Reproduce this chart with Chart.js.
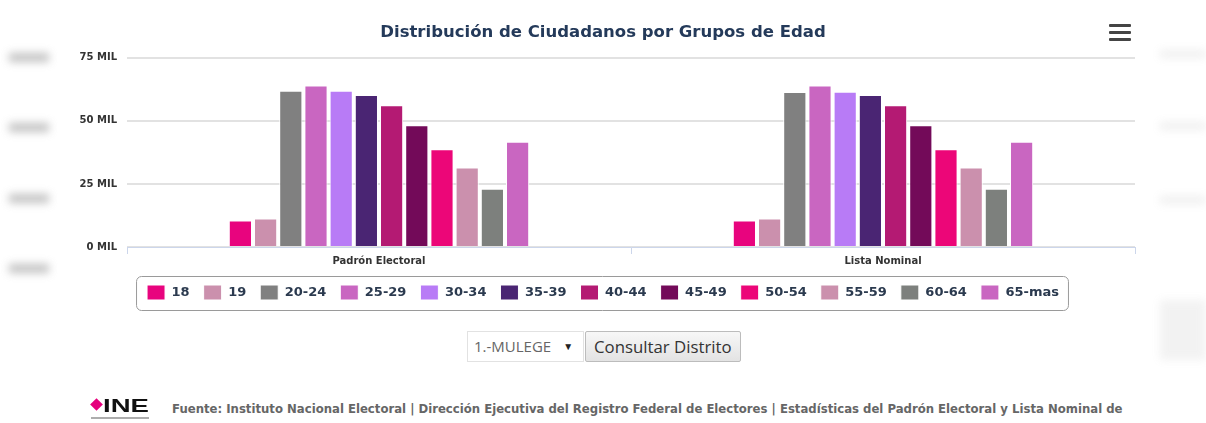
<!DOCTYPE html>
<html>
<head>
<meta charset="utf-8">
<script src="https://cdn.jsdelivr.net/npm/chart.js@4"></script>
<style>
    body { margin: 0; background: #fff; width: 1206px; height: 423px; overflow: hidden; position: relative; font-family: "DejaVu Sans", Verdana, sans-serif; }
    #wrap { position: absolute; left: 0; top: 0; width: 1206px; height: 322px; }
    .menu { position: absolute; left: 1109px; top: 24px; width: 22px; }
    .menu div { height: 3px; background: #444; margin-bottom: 4px; border-radius: 1px; }
    .blur { position: absolute; background: #9a9a9a; filter: blur(4px); opacity: .6; }
    .ctrl { position: absolute; top: 331px; left: 467px; display: flex; font-family: "Open Sans", sans-serif; }
    .sel { width: 109px; height: 29px; border: 1px solid #e2e2e2; color: #666; line-height: 29px; padding-left: 6px; font-size: 15px; white-space: nowrap; }
    .sel span { font-size: 10px; margin-left: 12px; color: #222; position: relative; top: -2px; }
    .btn { margin-left: 1px; height: 29px; line-height: 29px; padding: 0 8px; border: 1px solid #bcbcbc; background: linear-gradient(#f7f7f7, #e3e3e3); color: #333; border-radius: 2px; font-size: 16.8px; white-space: nowrap; }
    .logo { position: absolute; left: 89px; top: 397px; width: 62px; height: 24px; }
    .logo .d { position: absolute; left: 3px; top: 3px; width: 9px; height: 9px; background: #e5007d; transform: rotate(45deg); }
    .logo .t { position: absolute; left: 14px; top: -2px; font: bold 19px "Liberation Sans", Arial, sans-serif; color: #111; transform: scaleX(1.45); transform-origin: left; }
    .logo .s { position: absolute; left: 2px; top: 20px; width: 58px; height: 2px; background: #777; opacity: .6; }
    .src { position: absolute; left: 172px; top: 402px; font-size: 11.7px; font-weight: bold; color: #666; white-space: nowrap; }
</style>
</head>
<body>
<div class="blur" style="left:9px;top:53px;width:40px;height:9px"></div>
<div class="blur" style="left:9px;top:123px;width:40px;height:9px"></div>
<div class="blur" style="left:9px;top:194px;width:40px;height:9px"></div>
<div class="blur" style="left:9px;top:264px;width:40px;height:9px"></div>
<div class="blur" style="left:1160px;top:50px;width:46px;height:8px;opacity:.15"></div>
<div class="blur" style="left:1160px;top:122px;width:46px;height:8px;opacity:.15"></div>
<div class="blur" style="left:1160px;top:196px;width:46px;height:8px;opacity:.15"></div>
<div class="blur" style="left:1160px;top:300px;width:46px;height:60px;opacity:.12"></div>
<div id="wrap"><canvas id="myChart"></canvas></div>
<div class="menu"><div></div><div></div><div></div></div>
<div class="ctrl"><div class="sel">1.-MULEGE<span>▼</span></div><div class="btn">Consultar Distrito</div></div>
<div class="logo"><div class="d"></div><div class="t">INE</div><div class="s"></div></div>
<div class="src">Fuente: Instituto Nacional Electoral | Dirección Ejecutiva del Registro Federal de Electores | Estadísticas del Padrón Electoral y Lista Nominal de</div>
<script>
const categories = ["Padrón Electoral", "Lista Nominal"];
const ageGroups = ["18", "19", "20-24", "25-29", "30-34", "35-39", "40-44", "45-49", "50-54", "55-59", "60-64", "65-mas"];
const padron = [10500, 11300, 61900, 64000, 61900, 60300, 56200, 48300, 38700, 31500, 23100, 41700];
const lista = [10500, 11300, 61400, 64000, 61500, 60300, 56200, 48300, 38700, 31500, 23100, 41700];
const colors = ["#e8047e", "#cb90ad", "#808080", "#c966c1", "#b87bf6", "#4a2573", "#b41a73", "#730a59", "#ec0678", "#cb90ad", "#7d807d", "#c966c1"];
const yTicks = [0, 25000, 50000, 75000];

const ctx = document.getElementById("myChart");

// rounded box around the legend items
const legendBorder = {
    id: "legendBorder",
    afterDraw(chart) {
        const boxes = chart.legend.legendHitBoxes;
        if (!boxes || !boxes.length) return;
        const left = Math.min(...boxes.map(b => b.left)) - 11;
        const right = Math.max(...boxes.map(b => b.left + b.width)) + 9;
        const top = boxes[0].top - 9;
        const bottom = boxes[0].top + boxes[0].height + 10;
        const c = chart.ctx;
        c.save();
        c.strokeStyle = "#9a9a9a";
        c.lineWidth = 1;
        c.beginPath();
        c.roundRect(left + 0.5, top + 0.5, right - left, bottom - top, 5);
        c.stroke();
        c.restore();
    }
};

let myChart = new Chart(ctx, {
    type: "bar",
    data: {
        labels: categories,
        datasets: ageGroups.map((g, i) => ({
            label: g,
            data: [padron[i], lista[i]],
            backgroundColor: colors[i],
            borderColor: "#ffffff",
            borderWidth: 1,
            categoryPercentage: 0.6,
            barPercentage: 0.92
        }))
    },
    options: {
        responsive: true,
        maintainAspectRatio: false,
        animation: false,
        layout: { padding: { left: 0, right: 0, top: 0, bottom: 12 } },
        scales: {
            x: {
                grid: { display: true, drawOnChartArea: false, drawTicks: true, tickLength: 7, color: "#ccd6eb" },
                border: { color: "#ccd6eb", width: 1 },
                ticks: { padding: 1, color: "#333", font: { family: "DejaVu Sans", size: 10, weight: "bold" } },
                afterFit: s => { s.height = 24; }
            },
            y: {
                min: 0,
                max: 75000,
                afterBuildTicks: s => { s.ticks = yTicks.map(v => ({ value: v })); },
                grid: { color: "#e2e2e2", lineWidth: 2, drawTicks: false },
                border: { display: false },
                ticks: {
                    padding: 10,
                    color: "#333",
                    font: { family: "DejaVu Sans", size: 10, weight: "bold" },
                    callback: v => (v / 1000) + " MIL"
                },
                afterFit: s => { s.width = 127; }
            },
            // empty right-hand space so the title centres on the whole page
            yRight: {
                position: "right",
                display: true,
                grid: { display: false },
                border: { display: false },
                ticks: { display: false },
                afterFit: s => { s.width = 71; }
            }
        },
        plugins: {
            title: {
                display: true,
                text: "Distribución de Ciudadanos por Grupos de Edad",
                color: "#243a5a",
                font: { family: "DejaVu Sans", size: 16.5, weight: "bold" },
                padding: { top: 23, bottom: 15 }
            },
            legend: {
                position: "bottom",
                labels: {
                    boxWidth: 18,
                    boxHeight: 15,
                    padding: 14,
                    color: "#2b3a4f",
                    font: { family: "DejaVu Sans", size: 13, weight: "bold" }
                }
            },
            tooltip: { enabled: true }
        }
    },
    plugins: [legendBorder]
});
</script>
</body>
</html>
